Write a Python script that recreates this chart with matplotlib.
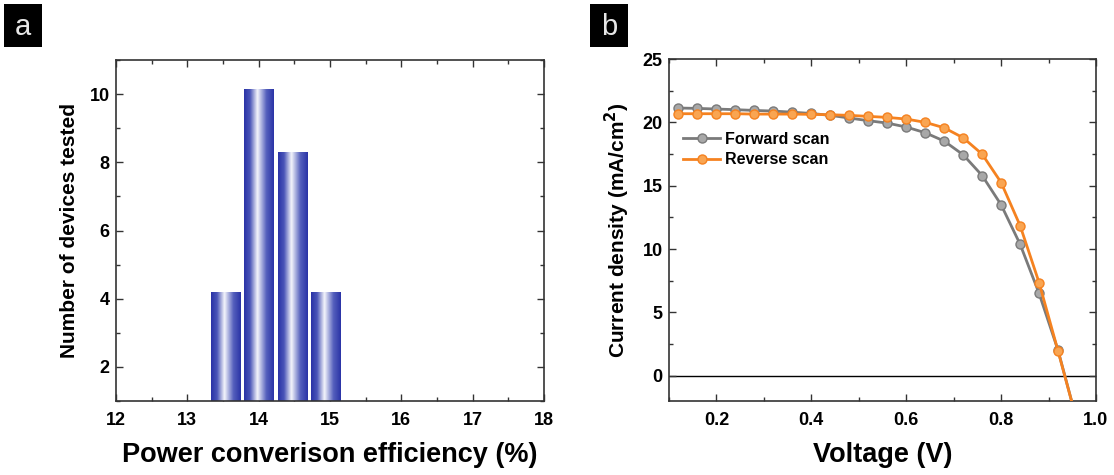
import numpy as np
import matplotlib
matplotlib.use("Agg")
import matplotlib.pyplot as plt
from matplotlib.colors import LinearSegmentedColormap
from matplotlib.patches import Rectangle
from matplotlib.ticker import MultipleLocator

plt.rcParams['font.family'] = ['Liberation Sans', 'DejaVu Sans']

# panel a: PCE histogram
pce_centers = [13.53, 14.0, 14.47, 14.94]
pce_counts = [4.17, 10.13, 8.28, 4.17]
bar_width = 0.41

# panel b: J-V curves
voltage = [0.12, 0.16, 0.20, 0.24, 0.28, 0.32, 0.36, 0.40, 0.44, 0.48, 0.52,
           0.56, 0.60, 0.64, 0.68, 0.72, 0.76, 0.80, 0.84, 0.88, 0.92, 0.96]
j_forward = [21.13, 21.10, 21.05, 21.00, 20.94, 20.89, 20.80, 20.70, 20.55,
             20.34, 20.13, 19.94, 19.63, 19.18, 18.52, 17.44, 15.80, 13.49,
             10.38, 6.50, 2.00, -3.6]
j_reverse = [20.68, 20.68, 20.68, 20.68, 20.65, 20.65, 20.65, 20.63, 20.60,
             20.55, 20.47, 20.39, 20.26, 20.00, 19.57, 18.78, 17.49, 15.25,
             11.85, 7.35, 1.95, -3.6]

W, H = 1114, 475
fig = plt.figure(figsize=(W / 100, H / 100), dpi=100)


def style_axes(ax):
    for sp in ax.spines.values():
        sp.set_linewidth(1.2)
        sp.set_color('#333333')
    ax.tick_params(which='both', direction='in', top=True, right=True,
                   width=1.0, colors='#333333', labelcolor='black')
    ax.tick_params(which='major', length=5)
    ax.tick_params(which='minor', length=3)
    ax.tick_params(axis='x', which='major', pad=8)
    ax.tick_params(axis='y', which='major', pad=4.5)
    for lab in ax.get_xticklabels() + ax.get_yticklabels():
        lab.set_fontweight('bold')
        lab.set_fontsize(13)


# ---- panel a ----
ax = fig.add_axes([116 / W, 1 - 401 / H, 428 / W, 341 / H])
cmap = LinearSegmentedColormap.from_list(
    'bar', [(0.0, '#2a33a6'), (0.2, '#4a55b8'), (0.45, '#f4f5fb'),
            (0.75, '#5560bd'), (1.0, '#2a33a6')])
grad = np.linspace(0, 1, 200).reshape(1, -1)
for c, h in zip(pce_centers, pce_counts):
    x0 = c - bar_width / 2
    ax.imshow(grad, cmap=cmap, aspect='auto', interpolation='bilinear',
              extent=[x0, x0 + bar_width, 1, h], zorder=2)
ax.set_xlim(12, 18)
ax.set_ylim(1, 11)
ax.xaxis.set_major_locator(MultipleLocator(1))
ax.xaxis.set_minor_locator(MultipleLocator(0.5))
ax.set_yticks([2, 4, 6, 8, 10])
ax.yaxis.set_minor_locator(MultipleLocator(1))
ax.set_xlabel('Power converison efficiency (%)', fontsize=19.5,
              fontweight='bold', labelpad=9)
ax.set_ylabel('Number of devices tested', fontsize=15, fontweight='bold',
              labelpad=8)
style_axes(ax)

# ---- panel b ----
bx = fig.add_axes([669 / W, 1 - 401 / H, 427 / W, 342 / H])
bx.axhline(0, color='black', lw=1.0, zorder=1)
bx.plot(voltage, j_forward, color='#7a7a7a', lw=2, marker='o', ms=6.5,
        mfc='#a8a8a8', mec='#7a7a7a', mew=1, label='Forward scan', zorder=3)
bx.plot(voltage, j_reverse, color='#f58220', lw=2, marker='o', ms=6.5,
        mfc='#f9a552', mec='#f58220', mew=1, label='Reverse scan', zorder=4)
bx.set_xlim(0.1, 1.0)
bx.set_ylim(-2, 25)
bx.xaxis.set_major_locator(MultipleLocator(0.2))
bx.xaxis.set_minor_locator(MultipleLocator(0.1))
bx.yaxis.set_major_locator(MultipleLocator(5))
bx.yaxis.set_minor_locator(MultipleLocator(2.5))
bx.set_xlabel('Voltage (V)', fontsize=19.5, fontweight='bold', labelpad=9)
bx.set_ylabel('Current density (mA/cm$^\\mathbf{2}$)', fontsize=15,
              fontweight='bold', labelpad=8)
bx.legend(loc='upper left', bbox_to_anchor=(0.0, 0.83), frameon=False,
          handlelength=2.3, handletextpad=0.3, labelspacing=0.35,
          prop={'weight': 'bold', 'size': 11.5})
style_axes(bx)

# panel letters in black boxes
for x0, x1, letter in [(4, 42, 'a'), (590, 628, 'b')]:
    fig.patches.append(Rectangle((x0 / W, 1 - 47 / H), (x1 - x0) / W, 43 / H,
                                 transform=fig.transFigure, fc='black',
                                 ec='none'))
    fig.text((x0 + x1) / 2 / W, 1 - 27 / H, letter, color='#e6e6e6',
             fontsize=21, ha='center', va='center')

fig.savefig('out.png', dpi=100)
